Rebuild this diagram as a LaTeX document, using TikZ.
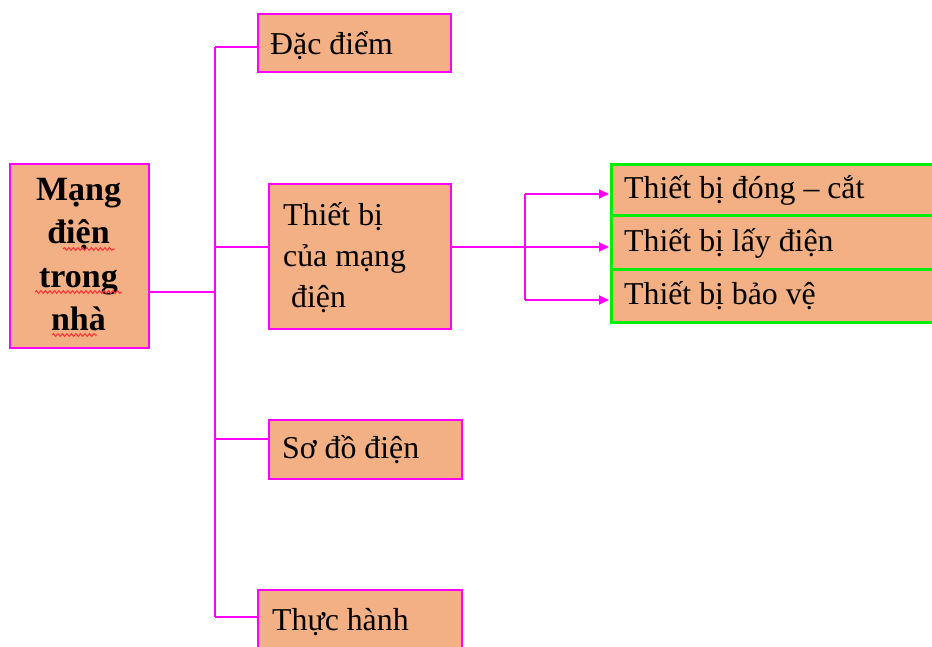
\documentclass[tikz,border=0pt]{standalone}
\usepackage{fontspec}
\setmainfont{Liberation Serif}
\usetikzlibrary{arrows.meta,decorations.pathmorphing}
\definecolor{boxfill}{HTML}{F2B084}
\definecolor{pinkline}{HTML}{FF00FF}
\definecolor{greenline}{HTML}{00EE00}
\tikzset{
  x=1pt, y=-1pt,
  pinkbox/.style={draw=pinkline, line width=2pt, fill=boxfill, inner sep=0pt, anchor=north west},
  greenbox/.style={draw=greenline, line width=2.5pt, fill=boxfill, inner sep=0pt, anchor=north west},
  lbl/.style={anchor=base west, inner sep=0pt, font=\fontsize{31.8}{36}\selectfont},
  headlbl/.style={anchor=base, inner sep=0pt, font=\fontsize{34}{38}\selectfont\bfseries},
  link/.style={draw=pinkline, line width=2pt},
  arrowlink/.style={link, -{Triangle[length=10pt,width=9pt]}},
  squiggle/.style={draw=red!80!white, line width=1pt,
    decorate, decoration={snake, amplitude=1.4pt, segment length=4.5pt}}
}
\begin{document}
\begin{tikzpicture}
\clip (0,0) rectangle (932,646);
\fill[white] (0,0) rectangle (932,646);

% main box
\node[pinkbox, minimum width=139pt, minimum height=184pt] (main) at (9,163) {};
\node[headlbl] (m1) at (78.5,200) {Mạng};
\node[headlbl] (m2) at (78.5,243) {điện};
\node[headlbl] (m3) at (78.5,287) {trong};
\node[headlbl] (m4) at (78.5,330) {nhà};
\draw[squiggle] (63,249) -- (115,249);
\draw[squiggle] (35,292) -- (122,292);
\draw[squiggle] (52,335) -- (97,335);

% first-level boxes
\node[pinkbox, minimum width=193pt, minimum height=58pt] (dac) at (257,13) {};
\node[lbl] (dact) at (270,54) {Đặc điểm};

\node[pinkbox, minimum width=182pt, minimum height=145pt] (tb) at (268,183) {};
\node[lbl] (tb1) at (283,225) {Thiết bị};
\node[lbl] (tb2) at (283,266) {của mạng};
\node[lbl] (tb3) at (291,307) {điện};

\node[pinkbox, minimum width=193pt, minimum height=59pt] (sd) at (268,419) {};
\node[lbl] (sdt) at (282,458) {Sơ đồ điện};

\node[pinkbox, minimum width=204pt, minimum height=80pt] (th) at (257,589) {};
\node[lbl] (tht) at (272,630) {Thực hành};

% second-level boxes
\node[greenbox, minimum width=340pt, minimum height=51pt] (g1) at (610,163) {};
\node[greenbox, minimum width=340pt, minimum height=54pt] (g2) at (610,214) {};
\node[greenbox, minimum width=340pt, minimum height=53pt] (g3) at (610,268) {};
\node[lbl] (g1t) at (624,198) {Thiết bị đóng – cắt};
\node[lbl] (g2t) at (624,251) {Thiết bị lấy điện};
\node[lbl] (g3t) at (624,304) {Thiết bị bảo vệ};

% trunk from the main box
\coordinate (j) at (215,292);
\coordinate (ttop) at (215,47);
\coordinate (tbot) at (215,617);
\coordinate (jtb) at (215,247);
\coordinate (jsd) at (215,439);
\draw[link] (main.east |- j) -- (j);
\draw[link] (ttop) -- (tbot);
\draw[link] (ttop) -- (dac.west |- ttop);
\draw[link] (jtb) -- (tb.west |- jtb);
\draw[link] (jsd) -- (sd.west |- jsd);
\draw[link] (tbot) -- (th.west |- tbot);

% branch to the devices
\coordinate (b1) at (525,194);
\coordinate (b2) at (525,247);
\coordinate (b3) at (525,300);
\draw[link] (b1) -- (b3);
\draw[arrowlink] (tb.east |- b2) -- ([xshift=-1pt]g2.west |- b2);
\draw[arrowlink] (b1) -- ([xshift=-1pt]g1.west |- b1);
\draw[arrowlink] (b3) -- ([xshift=-1pt]g3.west |- b3);
\end{tikzpicture}
\end{document}
